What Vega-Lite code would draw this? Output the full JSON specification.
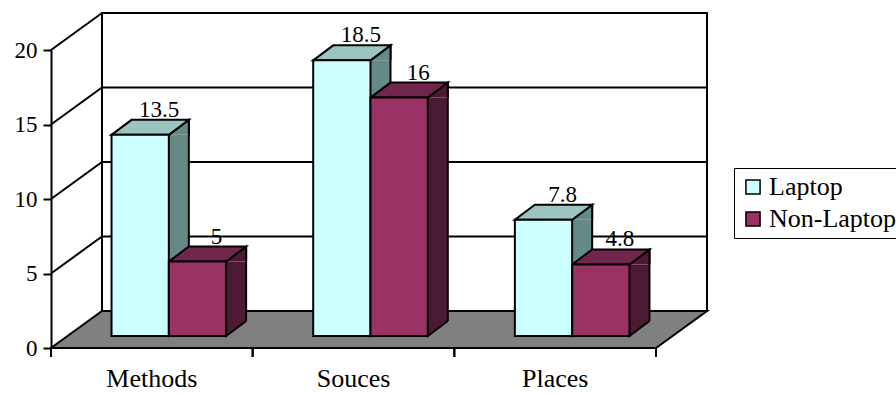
{
  "$schema": "https://vega.github.io/schema/vega-lite/v6.json",
  "width": 605,
  "height": 298,
  "autosize": {"type": "none"},
  "padding": {"left": 51, "top": 50, "right": 240, "bottom": 46},
  "background": "white",
  "datasets": {
    "bars": [
      {"cat": "Methods", "series": "Laptop", "value": 13.5},
      {"cat": "Methods", "series": "Non-Laptop", "value": 5},
      {"cat": "Souces", "series": "Laptop", "value": 18.5},
      {"cat": "Souces", "series": "Non-Laptop", "value": 16},
      {"cat": "Places", "series": "Laptop", "value": 7.8},
      {"cat": "Places", "series": "Non-Laptop", "value": 4.8}
    ],
    "cats": [{"cat": "Methods"}, {"cat": "Souces"}, {"cat": "Places"}],
    "grid": [{"v": 5}, {"v": 10}, {"v": 15}],
    "one": [{"k": 0}]
  },
  "layer": [
    {
      "data": {"name": "one"},
      "mark": {"type": "point", "shape": "M-49.83,-37L555.17,-37L555.17,-335L-49.83,-335ZM-100.83,-298L-49.83,-335", "size": 4, "filled": false, "stroke": "black", "strokeWidth": 2, "opacity": 1},
      "encoding": {
        "x": {"datum": "Methods", "type": "nominal", "scale": {"domain": ["Methods", "Souces", "Places"], "paddingInner": 0, "paddingOuter": 0}, "title": null},
        "y": {"datum": 0, "type": "quantitative", "scale": {"domain": [0, 20], "nice": false}, "title": null}
      }
    },
    {
      "data": {"name": "grid"},
      "mark": {"type": "point", "shape": "M-100.83,0L-49.83,-37L555.17,-37", "size": 4, "filled": false, "stroke": "black", "strokeWidth": 2, "opacity": 1},
      "encoding": {
        "x": {"datum": "Methods", "type": "nominal", "title": null},
        "y": {"field": "v", "type": "quantitative", "title": null}
      }
    },
    {
      "data": {"name": "one"},
      "mark": {"type": "point", "shape": "M-100.83,0L504.17,0L555.17,-37L-49.83,-37Z", "size": 4, "filled": true, "fill": "#808080", "stroke": "black", "strokeWidth": 2, "opacity": 1},
      "encoding": {
        "x": {"datum": "Methods", "type": "nominal", "title": null},
        "y": {"datum": 0, "type": "quantitative", "title": null}
      }
    },
    {
      "data": {"name": "cats"},
      "mark": {"type": "point", "shape": "M-100.83,0L-100.83,9M100.83,0L100.83,9", "size": 4, "filled": false, "stroke": "black", "strokeWidth": 2, "opacity": 1},
      "encoding": {
        "x": {"field": "cat", "type": "nominal", "title": null},
        "y": {"datum": 0, "type": "quantitative", "title": null}
      }
    },
    {
      "data": {"name": "bars"},
      "transform": [{"filter": "datum.series === 'Laptop'"}],
      "mark": {"type": "bar", "width": 20, "xOffset": 27, "yOffset": -12, "y2Offset": -27, "fill": "#658985", "strokeWidth": 0},
      "encoding": {
        "x": {"field": "cat", "type": "nominal", "title": null},
        "y": {"field": "value", "type": "quantitative", "title": null},
        "y2": {"datum": 0}
      }
    },
    {
      "data": {"name": "bars"},
      "transform": [{"filter": "datum.series === 'Non-Laptop'"}],
      "mark": {"type": "bar", "width": 20, "xOffset": 84.3, "yOffset": -12, "y2Offset": -27, "fill": "#4D1A33", "strokeWidth": 0},
      "encoding": {
        "x": {"field": "cat", "type": "nominal", "title": null},
        "y": {"field": "value", "type": "quantitative", "title": null},
        "y2": {"datum": 0}
      }
    },
    {
      "data": {"name": "bars"},
      "transform": [{"filter": "datum.series === 'Laptop'"}],
      "mark": {"type": "bar", "width": 2, "xOffset": 37, "yOffset": -27, "y2Offset": -27, "fill": "black", "strokeWidth": 0},
      "encoding": {
        "x": {"field": "cat", "type": "nominal", "title": null},
        "y": {"field": "value", "type": "quantitative", "title": null},
        "y2": {"datum": 0}
      }
    },
    {
      "data": {"name": "bars"},
      "transform": [{"filter": "datum.series === 'Non-Laptop'"}],
      "mark": {"type": "bar", "width": 2, "xOffset": 94.3, "yOffset": -27, "y2Offset": -27, "fill": "black", "strokeWidth": 0},
      "encoding": {
        "x": {"field": "cat", "type": "nominal", "title": null},
        "y": {"field": "value", "type": "quantitative", "title": null},
        "y2": {"datum": 0}
      }
    },
    {
      "data": {"name": "bars"},
      "mark": {"type": "point", "shape": "M45.65,-12L65.65,-27L65.65,-12", "size": 4, "filled": true, "stroke": "black", "strokeWidth": 2, "opacity": 1},
      "encoding": {
        "x": {"field": "cat", "type": "nominal", "title": null},
        "xOffset": {"field": "series", "type": "nominal", "scale": {"type": "band", "domain": ["Laptop", "Non-Laptop"], "paddingInner": 0, "paddingOuter": 0.76}},
        "y": {"field": "value", "type": "quantitative", "title": null},
        "fill": {"condition": {"test": "datum.series === 'Laptop'", "value": "#658985"}, "value": "#4D1A33"}
      }
    },
    {
      "data": {"name": "bars"},
      "mark": {"type": "point", "shape": "M45.65,-27L45.65,-12L65.65,-27", "size": 4, "filled": true, "stroke": "black", "strokeWidth": 2, "opacity": 1},
      "encoding": {
        "x": {"field": "cat", "type": "nominal", "title": null},
        "xOffset": {"field": "series", "type": "nominal"},
        "y": {"datum": 0, "type": "quantitative", "title": null},
        "fill": {"condition": {"test": "datum.series === 'Laptop'", "value": "#658985"}, "value": "#4D1A33"}
      }
    },
    {
      "data": {"name": "bars"},
      "mark": {"type": "point", "shape": "M-11.65,-12L45.65,-12L65.65,-27L8.35,-27Z", "size": 4, "filled": true, "stroke": "black", "strokeWidth": 2, "opacity": 1},
      "encoding": {
        "x": {"field": "cat", "type": "nominal", "title": null},
        "xOffset": {"field": "series", "type": "nominal"},
        "y": {"field": "value", "type": "quantitative", "title": null},
        "fill": {"condition": {"test": "datum.series === 'Laptop'", "value": "#9CC5C2"}, "value": "#73264D"}
      }
    },
    {
      "data": {"name": "bars"},
      "transform": [{"filter": "datum.series === 'Laptop'"}],
      "mark": {"type": "bar", "width": 57.3, "xOffset": -11.65, "yOffset": -12, "y2Offset": -12, "stroke": "black", "strokeWidth": 2},
      "encoding": {
        "x": {"field": "cat", "type": "nominal", "title": null},
        "y": {"field": "value", "type": "quantitative", "title": null},
        "y2": {"datum": 0},
        "color": {
          "field": "series", "type": "nominal",
          "scale": {"domain": ["Laptop", "Non-Laptop"], "range": ["#CCFFFF", "#993366"]},
          "legend": {"orient": "none", "legendX": 683, "legendY": 118, "title": null, "symbolType": "square", "symbolSize": 200, "symbolStrokeColor": "black", "symbolStrokeWidth": 1.5, "labelFont": "Liberation Serif", "labelFontSize": 26, "labelColor": "black", "labelOffset": 3, "rowPadding": 6, "strokeColor": "black", "padding": 6}
        }
      }
    },
    {
      "data": {"name": "bars"},
      "transform": [{"filter": "datum.series === 'Non-Laptop'"}],
      "mark": {"type": "bar", "width": 57.3, "xOffset": 45.65, "yOffset": -12, "y2Offset": -12, "stroke": "black", "strokeWidth": 2},
      "encoding": {
        "x": {"field": "cat", "type": "nominal", "title": null},
        "y": {"field": "value", "type": "quantitative", "title": null},
        "y2": {"datum": 0},
        "color": {"field": "series", "type": "nominal"}
      }
    },
    {
      "data": {"name": "bars"},
      "mark": {"type": "text", "dx": 36, "dy": -30, "baseline": "alphabetic", "align": "center", "font": "Liberation Serif", "fontSize": 23, "color": "black"},
      "encoding": {
        "x": {"field": "cat", "type": "nominal", "title": null},
        "xOffset": {"field": "series", "type": "nominal"},
        "y": {"field": "value", "type": "quantitative", "title": null},
        "text": {"field": "value", "type": "quantitative"}
      }
    }
  ],
  "config": {
    "view": {"stroke": null},
    "axisY": {"grid": false, "tickCount": 4, "domainColor": "black", "domainWidth": 2, "tickColor": "black", "tickWidth": 2, "tickSize": 8, "labelFont": "Liberation Serif", "labelFontSize": 23, "labelColor": "black", "labelPadding": 6},
    "axisX": {"domain": false, "ticks": false, "tickSize": 0, "labelFont": "Liberation Serif", "labelFontSize": 26, "labelColor": "black", "labelPadding": 38, "labelBaseline": "alphabetic", "labelAngle": 0}
  }
}
